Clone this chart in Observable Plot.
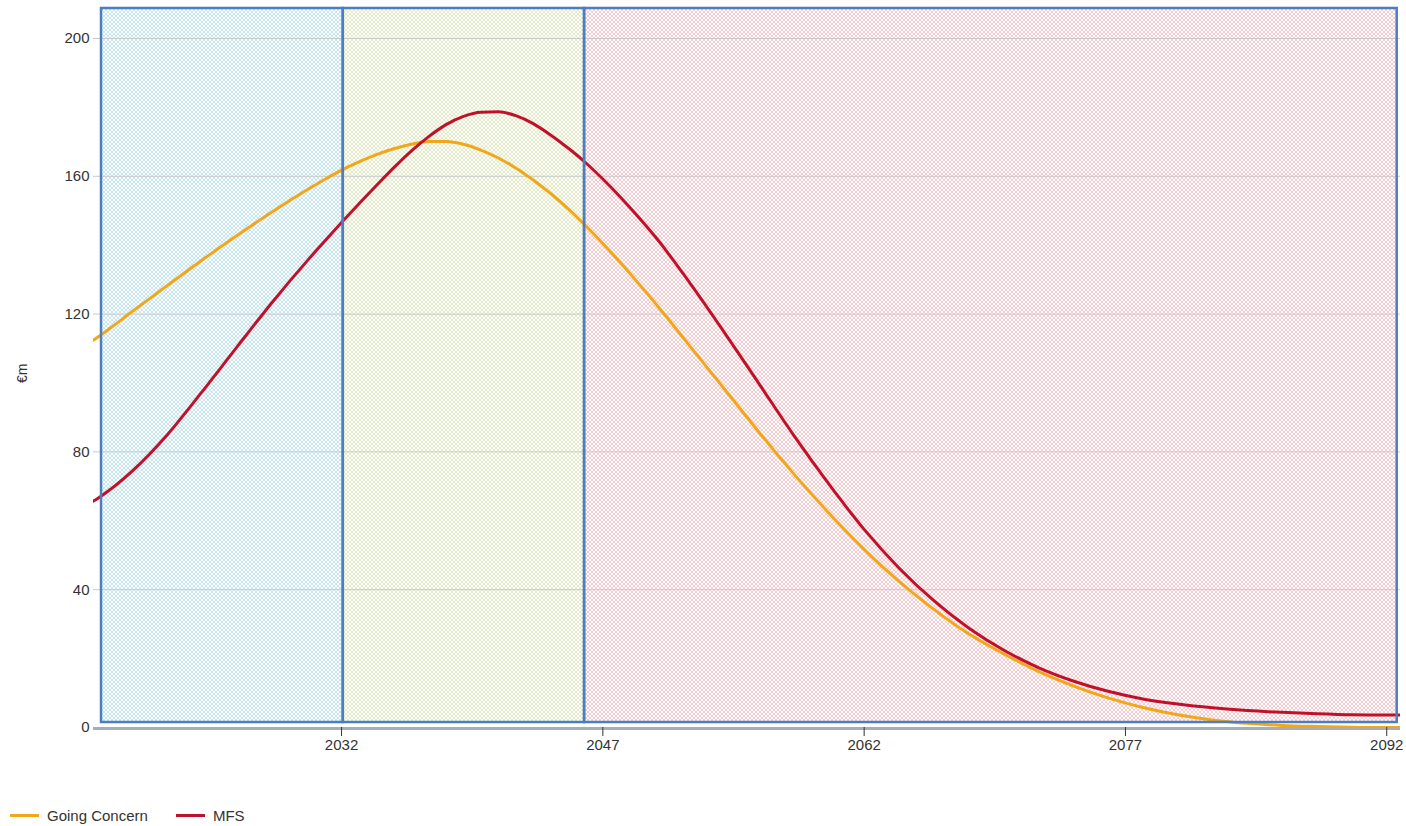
<!DOCTYPE html>
<html>
<head>
<meta charset="utf-8">
<script src="https://cdn.jsdelivr.net/npm/d3@7"></script>
<script src="https://cdn.jsdelivr.net/npm/@observablehq/plot@0.6"></script>
<style>
  html, body { margin: 0; padding: 0; background: #fff; }
  body { font-family: "Liberation Sans", Arial, sans-serif; color: #333; width: 1406px; }
  #chart svg { display: block; }
  #legend { display: flex; align-items: center; height: 18px; margin-top: 36px; padding-left: 10px; font-size: 15px; color: #333; }
  .item { display: flex; align-items: center; margin-right: 28px; }
  .swatch { width: 29px; height: 3px; margin-right: 8px; }
</style>
</head>
<body>
<div id="chart"></div>
<div id="legend"></div>
<script>
// ---- data ----
const years = [2017, 2018, 2020, 2022, 2024, 2026, 2028,
  2030, 2031, 2032, 2033, 2034, 2035, 2036, 2037, 2038, 2039, 2040,
  2041, 2042, 2043, 2044, 2045, 2046, 2047, 2048, 2049, 2050,
  2052, 2054, 2056, 2058, 2060, 2062, 2064, 2066, 2068, 2070, 2072, 2074, 2076, 2078, 2080, 2082, 2084, 2086, 2088, 2090, 2092, 2093];
const goingConcern = [110, 113.3, 120.8, 128.3, 135.7, 142.8, 149.6,
  156, 159, 161.8, 164.2, 166.3, 168, 169.3, 170.1, 170.1, 169.3, 167.6,
  165.3, 162.4, 158.9, 155, 150.6, 145.7, 140.5, 135, 129.2, 123.2,
  110.7, 98.1, 85.5, 73.4, 62.1, 51.7, 42.4, 34.3, 27.2, 21.4, 16.3, 12.1, 8.6, 5.8, 3.7, 2.2, 1.2, 0.6, 0.3, 0.1, 0, 0];
const mfs = [63.5, 66.5, 74.5, 85, 97.5, 110.5, 123.3,
  135.3, 141, 146.6, 152, 157.3, 162.5, 167.3, 171.5, 175, 177.4, 178.6,
  178.7, 177.6, 175.3, 172, 168.2, 164, 159.2, 154, 148.4, 142.5,
  129, 114.5, 99.5, 84.5, 70.5, 57.5, 46.3, 36.8, 28.9, 22.5, 17.4, 13.5, 10.5, 8.3, 6.8, 5.7, 4.9, 4.4, 4.0, 3.7, 3.6, 3.6];
const seriesNames = ["Going Concern", "MFS"];
const seriesColors = ["#f2a619", "#c0112b"];
const xTicks = [2032, 2047, 2062, 2077, 2092];
const yTicks = [0, 40, 80, 120, 160, 200];
const xDomain = [2017.76, 2092.79];
const yDomain = [0, 208.7];
// shaded periods
const bandStart = [2018.22, 2032.1, 2045.95];
const bandEnd = [2032.1, 2045.95, 2092.6];
const bandBottom = [1.45, 1.45, 1.45];
const bandTop = [208.7, 208.7, 208.7];
const bandPatternIds = ["pBlue", "pGreen", "pPink"];
const bandPatternColors = ["#c3e5f0", "#e3ebc6", "#f5cbd0"];

// ---- tables ----
const rows = [];
years.forEach((yr, i) => {
  rows.push({year: yr, value: goingConcern[i], series: seriesNames[0]});
  rows.push({year: yr, value: mfs[i], series: seriesNames[1]});
});
const bands = bandStart.map((s, i) => ({x1: s, x2: bandEnd[i], y1: bandBottom[i], y2: bandTop[i], pid: bandPatternIds[i]}));

const plot = Plot.plot({
  width: 1406,
  height: 770,
  marginLeft: 93,
  marginRight: 6,
  marginTop: 8,
  marginBottom: 43,
  style: {fontFamily: "Liberation Sans, Arial, sans-serif", fontSize: "15px", color: "#333", background: "#fff"},
  x: {domain: xDomain, label: null},
  y: {domain: yDomain, label: null},
  color: {domain: seriesNames, range: seriesColors},
  marks: [
    ...bands.map(b => Plot.rect([b], {x1: "x1", x2: "x2", y1: "y1", y2: "y2", fill: `url(#${b.pid})`})),
    Plot.gridY(yTicks, {stroke: "#c9c9c9", strokeOpacity: 1, strokeWidth: 1}),
    Plot.ruleY([0], {stroke: "#a4aeb9", strokeWidth: 3, dy: 1}),
    Plot.line(rows, {x: "year", y: "value", stroke: "series", z: "series", strokeWidth: 3, curve: "monotone-x", clip: true}),
    Plot.rect(bands, {x1: "x1", x2: "x2", y1: "y1", y2: "y2", fill: "none", stroke: "#4a7ec0", strokeWidth: 2.5}),
    Plot.axisX({ticks: xTicks, tickFormat: d => String(d), tickSize: 9, tickPadding: 3, label: null, stroke: "#333"}),
    Plot.axisY({ticks: yTicks, tickSize: 0, tickPadding: 4, label: null}),
    Plot.text(["€m"], {frameAnchor: "left", dx: -71, dy: 15, rotate: -90, fontSize: 14, fill: "#333"})
  ]
});

// patterns for the shaded periods
const defs = d3.select(plot).insert("defs", ":first-child");
bandPatternIds.forEach((id, i) => {
  const p = defs.append("pattern").attr("id", id).attr("width", 4).attr("height", 4).attr("patternUnits", "userSpaceOnUse");
  p.append("rect").attr("width", 4).attr("height", 4).attr("fill", "#fff");
  p.append("path").attr("d", "M0,0L4,4M4,0L0,4").attr("stroke", bandPatternColors[i]).attr("stroke-width", 1);
});

document.getElementById("chart").appendChild(plot);

// legend
const legend = d3.select("#legend");
seriesNames.forEach((name, i) => {
  const item = legend.append("div").attr("class", "item");
  item.append("div").attr("class", "swatch").style("background", seriesColors[i]);
  item.append("span").text(name);
});
</script>
</body>
</html>
